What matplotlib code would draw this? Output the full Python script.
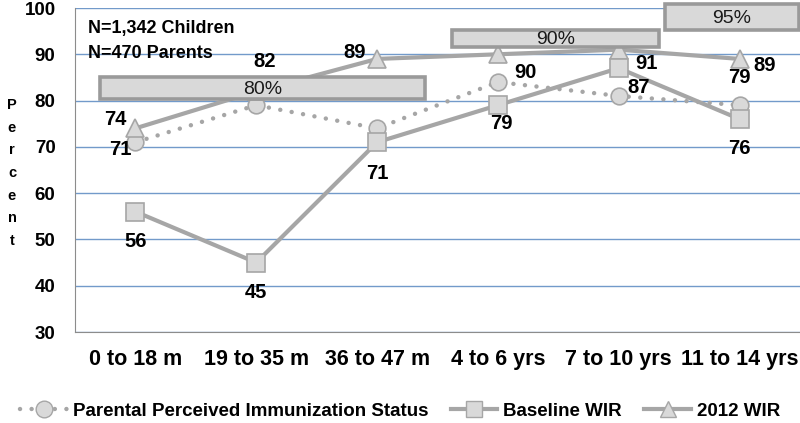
import matplotlib.pyplot as plt
from matplotlib.patches import Rectangle
from matplotlib.lines import Line2D

plt.rcParams['font.family'] = ['Liberation Sans', 'DejaVu Sans']

# data
ages = ['0 to 18 m', '19 to 35 m', '36 to 47 m', '4 to 6 yrs', '7 to 10 yrs', '11 to 14 yrs']
parental = [71, 79, 74, 84, 81, 79]
baseline = [56, 45, 71, 79, 87, 76]
wir2012 = [74, 82, 89, 90, 91, 89]

# which labels show (None = hidden) and pixel offsets
parental_off = [(-15, -7), None, None, None, None, (0, 28)]
baseline_off = [(0, -30), (0, -30), (0, -31), (3, -18), (20, -19), (0, -29)]
wir_off = [(-20, 9), (8, 30), (-22, 6), (28, -18), (28, -14), (25, -7)]

# target boxes: label, x0, x1, y0, y1
targets = [('80%', -0.29, 2.40, 80.3, 85.1),
           ('90%', 2.62, 4.33, 91.6, 95.2),
           ('95%', 4.38, 5.49, 95.2, 100.9)]

grey = '#a6a6a6'
fill = '#d9d9d9'
x = list(range(len(ages)))

fig = plt.figure(figsize=(8, 4.23), dpi=100)
ax = fig.add_axes([75/800, 1-332/423, 725/800, 324/423])

ax.plot(x, parental, color=grey, lw=3.2, linestyle=(0, (0.01, 2.6)), dash_capstyle='round',
        marker='o', ms=12, mfc=fill, mec=grey, mew=1.2, zorder=3)
ax.plot(x, wir2012, color=grey, lw=3, marker='^', ms=13, mfc=fill, mec=grey, mew=1.2, zorder=4)
ax.plot(x, baseline, color=grey, lw=3, marker='s', ms=13, mfc=fill, mec=grey, mew=1.2, zorder=5)

for vals, offs in [(parental, parental_off), (baseline, baseline_off), (wir2012, wir_off)]:
    for i, (v, o) in enumerate(zip(vals, offs)):
        if o is None:
            continue
        ax.annotate(str(v), (i, v), xytext=o, textcoords='offset pixels',
                    ha='center', va='center', fontsize=14.5, fontweight='bold', zorder=8)

for lab, x0, x1, y0, y1 in targets:
    ax.add_patch(Rectangle((x0, y0), x1-x0, y1-y0, facecolor=fill, edgecolor='#9a9a9a',
                           lw=2.6, zorder=6, clip_on=False))
    ax.text((x0+x1)/2, (y0+y1)/2 - 0.3, lab, ha='center', va='center', fontsize=14,
            color='#1a1a1a', zorder=7, clip_on=False)

ax.set_xlim(-0.5, 5.5)
ax.set_ylim(30, 100)
ax.set_yticks(range(30, 101, 10))
ax.set_xticks(x)
ax.set_xticklabels(ages)
ax.tick_params(length=0)
ax.tick_params(axis='y', pad=14, labelsize=13.5)
ax.tick_params(axis='x', pad=12, labelsize=15.5)
for t in ax.get_xticklabels() + ax.get_yticklabels():
    t.set_fontweight('bold')
ax.grid(axis='y', color='#4f81bd', lw=1, alpha=0.8)
ax.set_axisbelow(True)
for s in ['top', 'right']:
    ax.spines[s].set_visible(False)
for s in ['left', 'bottom']:
    ax.spines[s].set_color('#8c8c8c')

ax.text((88-75)/725, 1-20/324, 'N=1,342 Children', transform=ax.transAxes, va='center',
        fontsize=13, fontweight='bold')
ax.text((88-75)/725, 1-46/324, 'N=470 Parents', transform=ax.transAxes, va='center',
        fontsize=13, fontweight='bold')

fig.text(12/800, 1-173/423, '\n'.join('Percent'), ha='center', va='center',
         fontsize=10.5, fontweight='bold', linespacing=1.78)

handles = [
    Line2D([], [], color=grey, lw=3.2, linestyle=(0, (0.01, 2.6)), dash_capstyle='round',
           marker='o', ms=12, mfc=fill, mec=grey),
    Line2D([], [], color=grey, lw=3, marker='s', ms=11, mfc=fill, mec=grey),
    Line2D([], [], color=grey, lw=3, marker='^', ms=11, mfc=fill, mec=grey),
]
leg = fig.legend(handles, ['Parental Perceived Immunization Status', 'Baseline WIR', '2012 WIR'],
                 loc='center', bbox_to_anchor=(0.5, 1-411/423), ncol=3, frameon=False,
                 handlelength=2.5, handletextpad=0.3, columnspacing=1.2,
                 borderpad=0.1, prop={'size': 13.5, 'weight': 'bold'})

fig.savefig('out.png', dpi=100)
